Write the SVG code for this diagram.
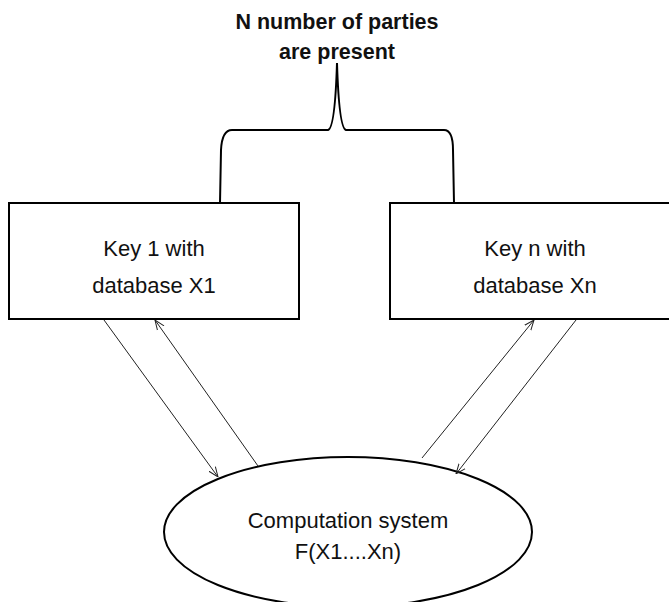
<svg xmlns="http://www.w3.org/2000/svg" width="669" height="602" viewBox="0 0 669 602">
<defs>
<style>
.box{fill:#fff;stroke:#000;stroke-width:2}
.lbl{font-family:"Liberation Sans",Arial,sans-serif;font-size:22px;fill:#111;text-anchor:middle}
.title{font-family:"Liberation Sans",Arial,sans-serif;font-size:21.5px;font-weight:bold;fill:#111;text-anchor:middle}
.conn{stroke:#222;stroke-width:1;fill:none}
</style>
<marker id="arr" viewBox="0 0 10 10" refX="10" refY="5" markerWidth="10" markerHeight="10" markerUnits="userSpaceOnUse" orient="auto">
<path d="M0,1 L10,5 L0,9" fill="none" stroke="#222" stroke-width="1"/>
</marker>
</defs>
<rect width="669" height="602" fill="#fff"/>
<g id="title">
<text class="title" x="337" y="29">N number of parties</text>
<text class="title" x="337" y="59">are present</text>
</g>
<g id="brace">
<path d="M220,203 L221,150 Q222,130 232,130 L328,130 Q335,128 337,63 Q339,128 346,130 L444,130 Q453,130 453,150 L454,203" fill="none" stroke="#000" stroke-width="2"/>
</g>
<g id="key1">
<rect class="box" x="9" y="203" width="290" height="116"/>
<text class="lbl" x="154" y="256">Key 1 with</text>
<text class="lbl" x="154" y="293">database X1</text>
</g>
<g id="keyn">
<rect class="box" x="390" y="203" width="290" height="116"/>
<text class="lbl" x="535" y="256">Key n with</text>
<text class="lbl" x="535" y="293">database Xn</text>
</g>
<g id="computation">
<ellipse class="box" cx="348" cy="532" rx="184" ry="75"/>
<text class="lbl" x="348" y="528">Computation system</text>
<text class="lbl" x="348" y="559">F(X1....Xn)</text>
</g>
<g id="connectors">
<line class="conn" x1="104" y1="320" x2="218" y2="477" marker-end="url(#arr)"/>
<line class="conn" x1="258" y1="466" x2="155" y2="320" marker-end="url(#arr)"/>
<line class="conn" x1="422" y1="458" x2="534" y2="320" marker-end="url(#arr)"/>
<line class="conn" x1="576" y1="320" x2="456" y2="474" marker-end="url(#arr)"/>
</g>
</svg>
